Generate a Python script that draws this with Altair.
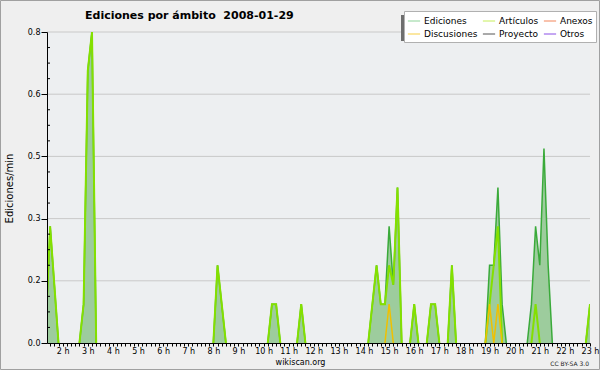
import altair as alt
import pandas as pd

TITLE = "Ediciones por ámbito\u00a0\u00a02008-01-29"
Y_TITLE = "Ediciones/min"
FOOTER_LEFT = "wikiscan.org"
FOOTER_RIGHT = "CC BY-SA 3.0"

# Listed column by column (legend has 3 columns x 2 rows)
LEGEND_NAMES = ["Ediciones", "Discusiones", "Artículos", "Proyecto", "Anexos", "Otros"]
LEGEND_COLORS = ["#8fd49a", "#f7cf45", "#c6ee5a", "#555555", "#f2855a", "#8a4ee6"]

# Edits per minute, 10-minute steps; each inner list is one visible burst
EDICIONES = [
    [("01:20", 0.05), ("01:30", 0.3), ("01:40", 0.15), ("01:50", 0)],
    [("02:40", 0), ("02:50", 0.1), ("03:00", 0.7), ("03:10", 0.8), ("03:20", 0)],
    [("08:00", 0), ("08:10", 0.2), ("08:20", 0.1), ("08:30", 0)],
    [("10:10", 0), ("10:20", 0.1), ("10:30", 0.1), ("10:40", 0)],
    [("11:20", 0), ("11:30", 0.1), ("11:40", 0)],
    [("14:10", 0), ("14:20", 0.1), ("14:30", 0.2), ("14:40", 0.1), ("14:50", 0.1),
     ("15:00", 0.3), ("15:10", 0.15), ("15:20", 0.4), ("15:30", 0)],
    [("15:50", 0), ("16:00", 0.1), ("16:10", 0)],
    [("16:30", 0), ("16:40", 0.1), ("16:50", 0.1), ("17:00", 0)],
    [("17:20", 0), ("17:30", 0.2), ("17:40", 0)],
    [("18:50", 0), ("19:00", 0.2), ("19:10", 0.2), ("19:20", 0.4), ("19:30", 0.1), ("19:40", 0)],
    [("20:30", 0), ("20:40", 0.1), ("20:50", 0.3), ("21:00", 0.2), ("21:10", 0.5), ("21:20", 0.2), ("21:30", 0)],
    [("22:50", 0), ("23:00", 0.1)],
]

ARTICULOS = [
    [("01:20", 0.05), ("01:30", 0.3), ("01:40", 0.15), ("01:50", 0)],
    [("02:40", 0), ("02:50", 0.1), ("03:00", 0.7), ("03:10", 0.8), ("03:20", 0)],
    [("08:00", 0), ("08:10", 0.2), ("08:20", 0.1), ("08:30", 0)],
    [("10:10", 0), ("10:20", 0.1), ("10:30", 0.1), ("10:40", 0)],
    [("11:20", 0), ("11:30", 0.1), ("11:40", 0)],
    [("14:10", 0), ("14:20", 0.1), ("14:30", 0.2), ("14:40", 0.1), ("14:50", 0.1),
     ("15:00", 0.2), ("15:10", 0.15), ("15:20", 0.4), ("15:30", 0)],
    [("15:50", 0), ("16:00", 0.1), ("16:10", 0)],
    [("16:30", 0), ("16:40", 0.1), ("16:50", 0.1), ("17:00", 0)],
    [("17:20", 0), ("17:30", 0.2), ("17:40", 0)],
    [("18:50", 0), ("19:00", 0.1), ("19:10", 0.2), ("19:20", 0.3), ("19:30", 0)],
    [("20:40", 0), ("20:50", 0.1), ("21:00", 0)],
    [("22:50", 0), ("23:00", 0.1)],
]

DISCUSIONES = [
    [("14:50", 0), ("15:00", 0.1), ("15:10", 0)],
    [("18:50", 0), ("19:00", 0.1), ("19:10", 0), ("19:20", 0.1), ("19:30", 0)],
]

Y_TICKS = [0, 0.16, 0.32, 0.48, 0.64, 0.8]
Y_MAX = 0.8
X_DOMAIN = [1.375, 23.0]

FONT = "DejaVu Sans"


def to_frame(segments):
    rows = []
    for i, seg in enumerate(segments):
        for t, v in seg:
            hh, mm = t.split(":")
            rows.append({"hour": int(hh) + int(mm) / 60.0, "value": v, "seg": i})
    return pd.DataFrame(rows)


ed_df = to_frame(EDICIONES)
art_df = to_frame(ARTICULOS)
dis_df = to_frame(DISCUSIONES)

x_ticks = [i / 6.0 for i in range(9, 139)]
minor_y = [round(i * 0.04, 2) for i in range(1, 20) if i % 4 != 0]

x_axis = alt.Axis(
    values=x_ticks,
    labelExpr="abs(datum.value - round(datum.value)) < 0.01 ? round(datum.value) + ' h' : ''",
    tickSize=3, labelPadding=1, labelFontSize=8, labelFont=FONT, labelColor="black",
    domainColor="black", tickColor="black", grid=False, title=None,
    labelOverlap=False, labelFlush=False, zindex=1,
)
y_axis = alt.Axis(
    values=Y_TICKS, format=".1f", tickSize=6, labelPadding=1, labelFontSize=8,
    labelFont=FONT, labelColor="black", domainColor="black", tickColor="black",
    grid=False, title=Y_TITLE, titleFont=FONT, titleFontSize=10, titleFontWeight="normal",
    titleColor="black", titleX=-38, titleY=156, titleAngle=270, titleAlign="center",
    titleBaseline="middle", labelOverlap=False, zindex=1,
)

X = alt.X("hour:Q", scale=alt.Scale(domain=X_DOMAIN, nice=False, zero=False), axis=x_axis)
Y = alt.Y("value:Q", scale=alt.Scale(domain=[0, Y_MAX], nice=False, zero=True), axis=y_axis, stack=None)

grid = alt.Chart(pd.DataFrame({"value": Y_TICKS[1:]})).mark_rule(
    color="#c9c9c9", strokeWidth=1
).encode(y=Y)

minor = alt.Chart(pd.DataFrame({"value": minor_y})).mark_rule(
    color="black", strokeWidth=1
).encode(y=Y, x=alt.value(0), x2=alt.value(3))

area = alt.Chart(ed_df).mark_area(color="#9dcc9d", clip=True).encode(
    x=X, y=Y, detail="seg:N"
)
ed_line = alt.Chart(ed_df).mark_line(color="#3aaa3a", strokeWidth=1.5, clip=True).encode(
    x=X, y=Y, detail="seg:N"
)
art_line = alt.Chart(art_df).mark_line(color="#84e000", strokeWidth=2, clip=True).encode(
    x=X, y=Y, detail="seg:N"
)
dis_line = alt.Chart(dis_df).mark_line(color="#f0c000", strokeWidth=1.5, clip=True).encode(
    x=X, y=Y, detail="seg:N"
)

shadow = alt.Chart(pd.DataFrame({"a": [1]})).mark_rect(color="#6e6e6e").encode(
    x=alt.value(354), x2=alt.value(543), y=alt.value(-17), y2=alt.value(9)
)

legend_layer = alt.Chart(pd.DataFrame({"serie": LEGEND_NAMES})).mark_line().encode(
    x=alt.value(0), y=alt.value(0),
    color=alt.Color(
        "serie:N",
        scale=alt.Scale(domain=LEGEND_NAMES, range=LEGEND_COLORS),
        legend=alt.Legend(
            title=None, orient="none", legendX=357, legendY=-21, columns=3,
            gridAlign="each",
            symbolType="stroke", symbolSize=150, symbolStrokeWidth=1,
            labelFontSize=9, labelFont=FONT, labelColor="black",
            fillColor="white", strokeColor="#b0b0b0", padding=3,
            rowPadding=1, columnPadding=2, labelOffset=3,
        ),
    ),
)

title = alt.Chart(pd.DataFrame({"t": [TITLE]})).mark_text(
    align="left", baseline="alphabetic", font=FONT, fontSize=11, fontWeight="bold", color="black"
).encode(x=alt.value(38), y=alt.value(-13.5), text="t:N")

foot_l = alt.Chart(pd.DataFrame({"t": [FOOTER_LEFT]})).mark_text(
    align="center", baseline="alphabetic", font=FONT, fontSize=8, color="black"
).encode(x=alt.value(253.5), y=alt.value(332.5), text="t:N")

foot_r = alt.Chart(pd.DataFrame({"t": [FOOTER_RIGHT]})).mark_text(
    align="right", baseline="alphabetic", font=FONT, fontSize=6, color="#222222"
).encode(x=alt.value(542), y=alt.value(333.5), text="t:N")

border = alt.Chart(pd.DataFrame({"a": [1]})).mark_rect(
    filled=False, stroke="#a0a0a0", strokeWidth=1
).encode(x=alt.value(-46.5), x2=alt.value(552.5), y=alt.value(-31.5), y2=alt.value(337.5))

chart = alt.layer(
    grid, area, ed_line, art_line, dis_line, minor, shadow, legend_layer,
    title, foot_l, foot_r, border
).properties(
    width=543, height=311,
    autosize=alt.AutoSizeParams(type="none"),
    padding={"left": 47, "top": 32, "right": 10, "bottom": 27},
    background="#efefef",
).configure_view(
    stroke=None, fill="#edeff1"
)

chart.save("out.html", embed_options={"renderer": "svg", "actions": False})
